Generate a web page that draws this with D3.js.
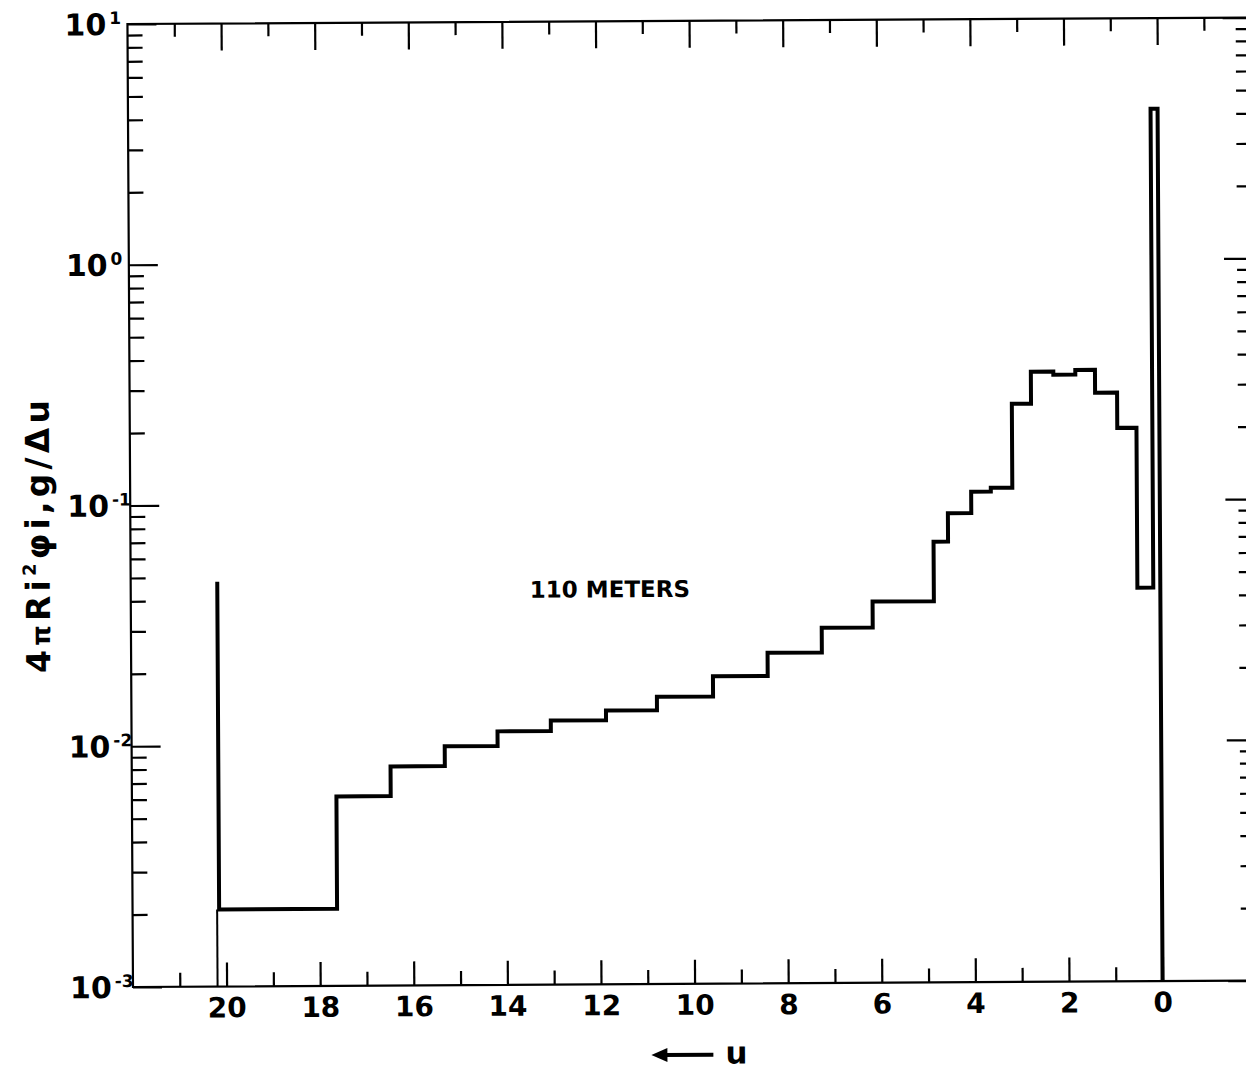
<!DOCTYPE html>
<html><head><meta charset="utf-8">
<script src="https://cdn.jsdelivr.net/npm/d3@7"></script>
<style>body{margin:0;background:#fff}svg{display:block}</style>
</head><body>
<svg id="c" width="1246" height="1073"></svg>
<script>
// ---- data ----
const binEdges = [20.15, 17.63, 16.47, 15.31, 14.18, 13.04, 11.86, 10.77, 9.57, 8.40, 7.24, 6.15,
                  4.84, 4.53, 4.03, 3.61, 3.15, 2.74, 2.26, 1.79, 1.37, 0.90, 0.49, 0.15, 0.0];
const binValues = [0.00209, 0.00612, 0.00813, 0.00982, 0.0113, 0.0125, 0.0137, 0.0156, 0.0189, 0.0236,
                   0.0299, 0.0383, 0.0677, 0.0888, 0.109, 0.113, 0.252, 0.342, 0.332, 0.347,
                   0.279, 0.199, 0.0431, 4.20];
const leftSpikeValue = 0.048;
const xMajorTicks = [20, 18, 16, 14, 12, 10, 8, 6, 4, 2, 0];
const xMinorBottom = [21, 19, 17, 15, 13, 11, 9, 7, 5, 3, 1];
const xMinorTop = [21, 19, 17, 15, 13, 11, 9, 7, 5, 3, 1, -1];
const yDecades = [1e-3, 1e-2, 1e-1, 1e0, 1e1];
const yExponents = ["-3", "-2", "-1", "0", "1"];
const annotationText = "110 METERS";
const xTitle = "u";

// ---- drawing ----
const W = 1246, H = 1073;
const svg = d3.select("#c");
svg.append("rect").attr("width", W).attr("height", H).attr("fill", "#fff");
const g = svg.append("g").attr("transform", "rotate(-0.33,133,987)");

const x = d3.scaleLinear().domain([22, -2]).range([133, 1256.2]);
const y = d3.scaleLog().domain([1e-3, 10]).range([987, 24]);
const font = "'DejaVu Sans', sans-serif";

const yMinor = [];
for (let k = -3; k < 1; k++) for (let m = 2; m <= 9; m++) yMinor.push(m * Math.pow(10, k));

function styleAxis(sel) {
  sel.select(".domain").remove();
  sel.selectAll(".tick line").attr("stroke", "#000").attr("stroke-width", 2.2);
}

// bottom axis
g.append("g").attr("transform", `translate(0,${y(1e-3)})`)
  .call(d3.axisBottom(x).tickValues(xMajorTicks).tickSize(-24).tickPadding(11).tickFormat(d3.format("d")))
  .call(styleAxis)
  .call(s => s.selectAll("text").attr("font-family", font).attr("font-size", 28)
    .attr("font-weight", "bold").attr("fill", "#000"));
g.append("g").attr("transform", `translate(0,${y(1e-3)})`)
  .call(d3.axisBottom(x).tickValues(xMinorBottom).tickSize(-14).tickFormat(""))
  .call(styleAxis);
// top axis
g.append("g").attr("transform", `translate(0,${y(10)})`)
  .call(d3.axisTop(x).tickValues(xMajorTicks).tickSize(-27).tickFormat(""))
  .call(styleAxis);
g.append("g").attr("transform", `translate(0,${y(10)})`)
  .call(d3.axisTop(x).tickValues(xMinorTop).tickSize(-13).tickFormat(""))
  .call(styleAxis);
// left axis
g.append("g").attr("transform", `translate(${x(22)},0)`)
  .call(d3.axisLeft(y).tickValues(yDecades).tickSize(-29).tickFormat(""))
  .call(styleAxis);
g.append("g").attr("transform", `translate(${x(22)},0)`)
  .call(d3.axisLeft(y).tickValues(yMinor).tickSize(-15).tickFormat(""))
  .call(styleAxis);
// right axis
g.append("g").attr("transform", `translate(${x(-2)},0)`)
  .call(d3.axisRight(y).tickValues(yDecades).tickSize(-28).tickFormat(""))
  .call(styleAxis);
g.append("g").attr("transform", `translate(${x(-2)},0)`)
  .call(d3.axisRight(y).tickValues(yMinor).tickSize(-15).tickFormat(""))
  .call(styleAxis);

// frame
g.append("rect")
  .attr("x", x(22)).attr("y", y(10))
  .attr("width", x(-2) - x(22)).attr("height", y(1e-3) - y(10))
  .attr("fill", "none").attr("stroke", "#000").attr("stroke-width", 2.2);

// y tick labels
const yl = g.append("g").attr("font-family", font).attr("font-weight", "bold").attr("fill", "#000");
yDecades.forEach((d, i) => {
  const t = yl.append("text").attr("x", 70).attr("y", y(d) + 11).attr("font-size", 30);
  t.append("tspan").text("10");
  t.append("tspan").attr("font-size", 17).attr("dx", 3).attr("dy", -11).text(yExponents[i]);
});

// histogram
const p = d3.path();
p.moveTo(x(binEdges[0]), y(leftSpikeValue));
binValues.forEach((v, i) => {
  p.lineTo(x(binEdges[i]), y(v));
  p.lineTo(x(binEdges[i + 1]), y(v));
});
p.lineTo(x(binEdges[binEdges.length - 1]), y(1e-3));
g.append("path").attr("d", p.toString()).attr("fill", "none")
  .attr("stroke", "#000").attr("stroke-width", 4).attr("stroke-linejoin", "miter");
// thin line from the axis to the first bin
g.append("line")
  .attr("x1", x(binEdges[0]) - 2).attr("x2", x(binEdges[0]) - 2)
  .attr("y1", y(1e-3)).attr("y2", y(binValues[0]))
  .attr("stroke", "#000").attr("stroke-width", 2);

// annotation
g.append("text").attr("x", 532).attr("y", 600)
  .attr("font-family", font).attr("font-weight", "bold").attr("font-size", 23)
  .attr("fill", "#000").text(annotationText);

// x title: arrow + u
g.append("line").attr("x1", 662).attr("x2", 713).attr("y1", 1058).attr("y2", 1058)
  .attr("stroke", "#000").attr("stroke-width", 4);
g.append("path").attr("d", "M651,1058 L667,1051 L667,1065 Z").attr("fill", "#000");
g.append("text").attr("x", 725).attr("y", 1067)
  .attr("font-family", font).attr("font-weight", "bold").attr("font-size", 31)
  .attr("fill", "#000").text(xTitle);

// y title
const yt = g.append("text")
  .attr("transform", "translate(52,536) rotate(-90)")
  .attr("text-anchor", "middle")
  .attr("font-family", font).attr("font-weight", "bold").attr("font-size", 33)
  .attr("fill", "#000")
  .attr("textLength", 273).attr("lengthAdjust", "spacing");
yt.append("tspan").text("4");
yt.append("tspan").attr("font-size", 26).text("π");
yt.append("tspan").text("Ri");
yt.append("tspan").attr("font-size", 18).attr("dy", -14).text("2");
yt.append("tspan").attr("dy", 14).text("φi,g/Δu");
</script>
</body></html>
